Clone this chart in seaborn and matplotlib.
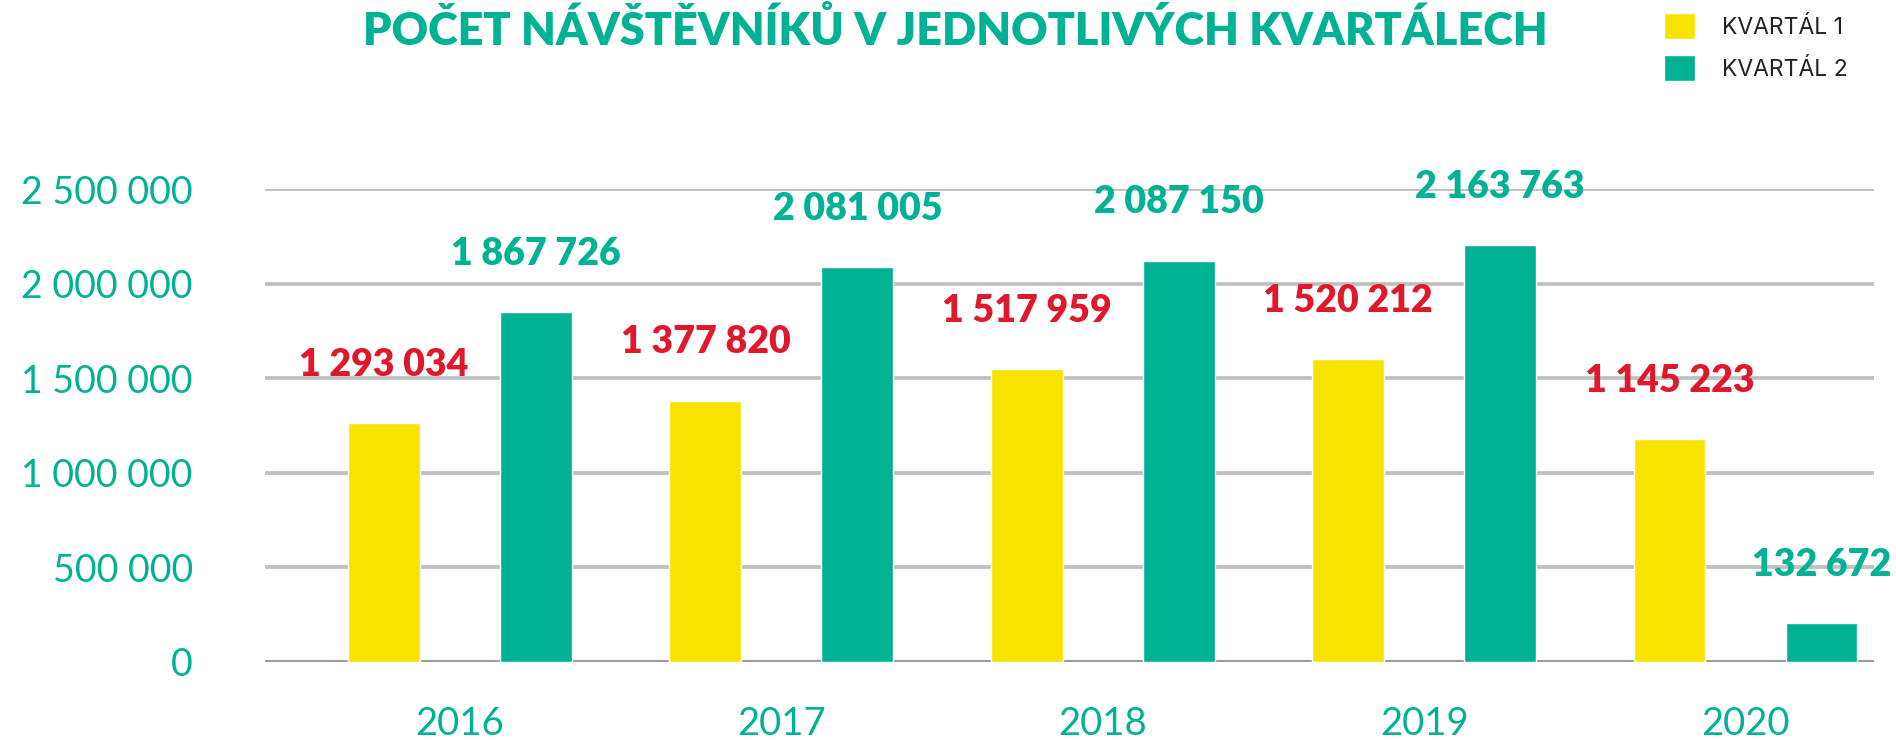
import pandas as pd
import matplotlib
matplotlib.use("Agg")
import matplotlib.pyplot as plt
import seaborn as sns
from matplotlib.patches import Patch
from matplotlib.ticker import FuncFormatter

# Data
years = ["2016", "2017", "2018", "2019", "2020"]
quarters = ["KVARTÁL 1", "KVARTÁL 2"]
q1_heights = [1261000, 1381000, 1549000, 1600000, 1178000]
q2_heights = [1850000, 2087000, 2122000, 2205000, 202000]
q1_labels = ["1 293 034", "1 377 820", "1 517 959", "1 520 212", "1 145 223"]
q2_labels = ["1 867 726", "2 081 005", "2 087 150", "2 163 763", "132 672"]
y_ticks = [0, 500000, 1000000, 1500000, 2000000, 2500000]

TEAL = "#00b294"
YELLOW = "#fae300"
RED = "#e0182b"

df = pd.DataFrame({
    "rok": years * 2,
    "kvartal": [quarters[0]] * 5 + [quarters[1]] * 5,
    "navstevnici": q1_heights + q2_heights,
})

sns.set_style("white")
plt.rcParams["font.family"] = ["Lato", "DejaVu Sans"]

fig = plt.figure(figsize=(18.96, 7.40), dpi=100)
ax = fig.add_axes([265 / 1896, (740 - 661.5) / 740, (1874 - 265) / 1896, (661.5 - 189.3) / 740])

sns.barplot(data=df, x="rok", y="navstevnici", hue="kvartal",
            palette=[YELLOW, TEAL], width=0.946, gap=0.527,
            saturation=1, legend=False, ax=ax, zorder=3)

ax.set_xlim(-0.607, 4.40)
ax.set_ylim(0, 2500000)
ax.set_yticks(y_ticks)
ax.yaxis.set_major_formatter(FuncFormatter(lambda v, p: f"{v:,.0f}".replace(",", " ")))
ax.set_xlabel("")
ax.set_ylabel("")

for s in ax.spines.values():
    s.set_visible(False)
ax.set_axisbelow(True)
ax.yaxis.grid(True, color="#c0c0c0", linewidth=2.7)
ax.axhline(0, color="#9a9a9a", linewidth=2.9, zorder=2)

ax.tick_params(axis="y", length=0, pad=52, labelsize=27, labelcolor=TEAL)
ax.tick_params(axis="x", length=0, pad=32, labelsize=27.5, labelcolor=TEAL)

# value labels above bars
for containers, labels, color in zip(ax.containers, [q1_labels, q2_labels], [RED, TEAL]):
    for bar, txt in zip(containers, labels):
        ax.annotate(txt, (bar.get_x() + bar.get_width() / 2, bar.get_height()),
                    xytext=(0, 34), textcoords="offset points",
                    ha="center", va="baseline", fontsize=27, fontweight="heavy",
                    color=color, annotation_clip=False, zorder=5)

fig.text(0.504, 1 - 30 / 740, "POČET NÁVŠTĚVNÍKŮ V JEDNOTLIVÝCH KVARTÁLECH",
         ha="center", va="center", fontsize=32.4, fontweight="heavy", color=TEAL)

handles = [Patch(facecolor=YELLOW, label=quarters[0]), Patch(facecolor=TEAL, label=quarters[1])]
fig.legend(handles=handles, loc="upper left", bbox_to_anchor=(1664 / 1896, 1 - 13 / 740),
           frameon=False, prop={"family": "Inter", "size": 16.5}, handlelength=1.36,
           handleheight=1.36, handletextpad=1.15, labelspacing=0.72, borderpad=0,
           borderaxespad=0, labelcolor="#222222")

fig.savefig("out.png", dpi=100)
